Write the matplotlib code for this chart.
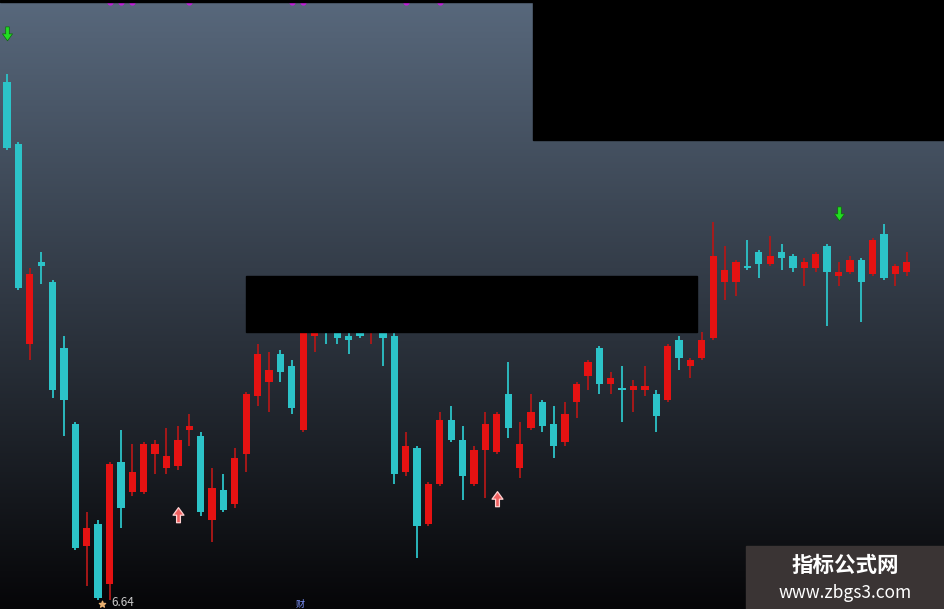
import numpy as np
import matplotlib.pyplot as plt
from matplotlib.path import Path
from matplotlib.patches import Rectangle

plt.rcParams['font.family'] = ['Noto Sans CJK SC', 'DejaVu Sans']

# daily candles (open, high, low, close)
opens = [9.23, 8.92, 7.92, 8.33, 8.23, 7.90, 7.52, 6.91, 7.02, 6.72,
         7.33, 7.18, 7.18, 7.37, 7.30, 7.31, 7.49, 7.46, 7.04, 7.19,
         7.12, 7.37, 7.66, 7.73, 7.87, 7.81, 7.49, 7.96, 8.03, 8.00,
         7.96, 8.01, 7.99, 8.01, 7.96, 7.28, 7.40, 7.02, 7.22, 7.54,
         7.44, 7.22, 7.39, 7.38, 7.67, 7.30, 7.50, 7.63, 7.52, 7.43,
         7.63, 7.76, 7.90, 7.72, 7.70, 7.69, 7.69, 7.67, 7.64, 7.94,
         7.81, 7.85, 7.95, 8.23, 8.23, 8.31, 8.38, 8.32, 8.38, 8.36,
         8.30, 8.30, 8.41, 8.26, 8.28, 8.34, 8.27, 8.47, 8.27, 8.28]
highs = [9.27, 8.93, 8.30, 8.38, 8.24, 7.96, 7.53, 7.08, 7.04, 7.33,
         7.49, 7.42, 7.43, 7.44, 7.50, 7.51, 7.57, 7.48, 7.30, 7.27,
         7.40, 7.68, 7.92, 7.88, 7.89, 7.84, 8.05, 8.02, 8.05, 8.02,
         8.02, 8.03, 8.07, 8.04, 7.98, 7.48, 7.41, 7.23, 7.58, 7.61,
         7.51, 7.41, 7.58, 7.58, 7.83, 7.53, 7.67, 7.64, 7.61, 7.63,
         7.73, 7.84, 7.91, 7.78, 7.81, 7.74, 7.81, 7.69, 7.92, 7.96,
         7.85, 7.98, 8.53, 8.41, 8.34, 8.44, 8.39, 8.46, 8.42, 8.37,
         8.35, 8.38, 8.42, 8.33, 8.36, 8.35, 8.45, 8.52, 8.32, 8.38]
lows = [8.89, 8.19, 7.84, 8.22, 7.65, 7.46, 6.89, 6.71, 6.64, 6.64,
        7.00, 7.16, 7.17, 7.27, 7.27, 7.29, 7.41, 7.06, 6.93, 7.08,
        7.10, 7.28, 7.61, 7.58, 7.73, 7.57, 7.48, 7.88, 7.92, 7.92,
        7.87, 7.95, 7.92, 7.81, 7.22, 7.26, 6.85, 7.01, 7.21, 7.43,
        7.14, 7.21, 7.15, 7.37, 7.45, 7.25, 7.49, 7.48, 7.35, 7.41,
        7.55, 7.69, 7.67, 7.67, 7.53, 7.58, 7.66, 7.48, 7.63, 7.79,
        7.75, 7.84, 7.94, 8.14, 8.16, 8.29, 8.25, 8.31, 8.29, 8.28,
        8.21, 8.28, 8.01, 8.21, 8.27, 8.03, 8.26, 8.24, 8.21, 8.26]
closes = [8.90, 8.20, 8.27, 8.31, 7.69, 7.64, 6.90, 7.00, 6.65, 7.32,
          7.10, 7.28, 7.42, 7.42, 7.36, 7.44, 7.51, 7.08, 7.20, 7.09,
          7.35, 7.67, 7.87, 7.79, 7.78, 7.60, 8.03, 7.99, 7.99, 7.95,
          7.94, 7.96, 8.03, 7.95, 7.27, 7.41, 7.01, 7.22, 7.54, 7.44,
          7.26, 7.39, 7.52, 7.57, 7.50, 7.42, 7.58, 7.51, 7.41, 7.57,
          7.72, 7.83, 7.72, 7.75, 7.69, 7.71, 7.71, 7.56, 7.91, 7.85,
          7.84, 7.94, 8.36, 8.29, 8.33, 8.30, 8.32, 8.36, 8.35, 8.30,
          8.33, 8.37, 8.28, 8.28, 8.34, 8.23, 8.44, 8.25, 8.31, 8.33]

low_label = '6.64'
sell_idx = [0, 73]
sell_px = [9.47, 8.57]
buy_idx = [15, 43]
buy_px = [7.07, 7.15]
top_mark_idx = [9, 10, 11, 16, 25, 26, 35, 38]

up_col = '#e51212'
dn_col = '#2cc3c8'

fig = plt.figure(figsize=(9.45, 6.09), dpi=100)
fig.patch.set_facecolor('#000000')
ax = fig.add_axes([0, 0, 1, 1])
x0, x1 = -0.615, 82.35
y0, y1 = 6.595, 9.64
ax.set_xlim(x0, x1)
ax.set_ylim(y0, y1)
ax.axis('off')

# background gradient, light slate at top to near-black at bottom
top = np.array([88, 104, 124]) / 255
bot = np.array([6, 6, 8]) / 255
t = np.linspace(0, 1, 300)[:, None]
grad = (top * (1 - t) + bot * t)[:, None, :]
ax.imshow(grad, extent=[x0, x1, y0, y1], aspect='auto', zorder=0)

idx = np.arange(len(opens))
o = np.array(opens)
c = np.array(closes)
h = np.array(highs)
l = np.array(lows)
up = c >= o
cols = np.where(up, up_col, dn_col)
wick_cols = np.where(up, '#b01818', dn_col)

ax.vlines(idx, l, h, colors=wick_cols, linewidth=1.3, zorder=2)
body_lo = np.minimum(o, c)
body_h = np.maximum(np.abs(c - o), 0.01)
ax.bar(idx, body_h, bottom=body_lo, width=0.64, color=cols, zorder=3)

# signal arrows
arrow = Path([(-0.4, 0.05), (-0.14, 0.05), (-0.14, 0.6), (0.14, 0.6), (0.14, 0.05),
              (0.4, 0.05), (0, -0.5), (-0.4, 0.05)],
             [Path.MOVETO] + [Path.LINETO] * 6 + [Path.CLOSEPOLY])
arrow_up = Path(arrow.vertices * [1, -1], arrow.codes)
ax.scatter(sell_idx, sell_px, marker=arrow, s=120, color='#22dd22',
           edgecolors='#0c6a0c', linewidths=0.5, zorder=4)
ax.scatter(buy_idx, buy_px, marker=arrow_up, s=140, color='#f06060',
           edgecolors='#ffd0d0', linewidths=0.9, zorder=4)

# magenta markers on the top edge
ax.scatter(top_mark_idx, [y1 - 0.012] * len(top_mark_idx), marker='o', s=12,
           color='#c020d8', zorder=4)
ax.add_patch(Rectangle((0, 0.996), 1, 0.004, transform=ax.transAxes,
                       color='black', zorder=5))

# low price label
ax.text(9.2, 6.626, low_label, color='#c8c8c8', fontsize=8.5, ha='left',
        va='center', zorder=5)
ax.scatter([8.3], [6.618], marker='*', s=22, color='#e8b070', zorder=5)
ax.text(25.75, 6.618, '财', color='#7f95ff', fontsize=6.5, ha='center',
        va='center', zorder=5)

# black redaction boxes
ax.add_patch(Rectangle((0.564, 0.770), 0.436, 0.23, transform=ax.transAxes,
                       color='black', zorder=6))
ax.add_patch(Rectangle((0.260, 0.4548), 0.4776, 0.092, transform=ax.transAxes,
                       color='black', zorder=6))

# watermark
ax.add_patch(Rectangle((0.789, 0), 0.211, 0.1034, transform=ax.transAxes,
                       color='#3a3434', zorder=6))
ax.text(0.894, 0.0715, '指标公式网', transform=ax.transAxes, color='white',
        fontsize=15.5, fontweight='bold', ha='center', va='center', zorder=7)
ax.text(0.894, 0.027, 'www.zbgs3.com', transform=ax.transAxes, color='white',
        fontsize=12.5, ha='center', va='center', zorder=7)

fig.savefig('out.png', dpi=100, facecolor=fig.get_facecolor())
